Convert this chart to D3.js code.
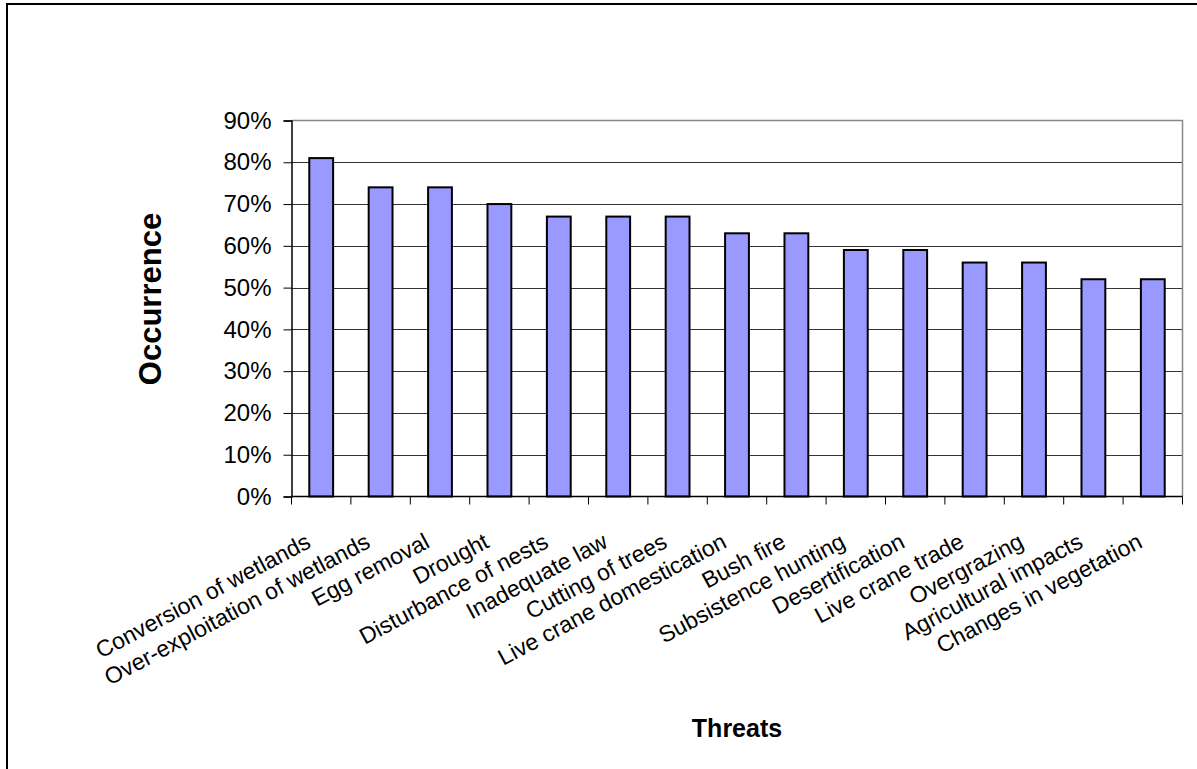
<!DOCTYPE html>
<html>
<head>
<meta charset="utf-8">
<script src="https://cdn.jsdelivr.net/npm/d3@7"></script>
<style>
  html, body { margin: 0; padding: 0; background: #fff; }
  svg { display: block; font-family: Arial, "Liberation Sans", sans-serif; }
</style>
</head>
<body>
<svg id="chart" width="1197" height="769"></svg>
<script>
// Threat categories and share of sites where each was reported
const threats = [
  "Conversion of wetlands",
  "Over-exploitation of wetlands",
  "Egg removal",
  "Drought",
  "Disturbance of nests",
  "Inadequate law",
  "Cutting of trees",
  "Live crane domestication",
  "Bush fire",
  "Subsistence hunting",
  "Desertification",
  "Live crane trade",
  "Overgrazing",
  "Agricultural impacts",
  "Changes in vegetation"
];
const occurrence = [81, 74, 74, 70, 67, 67, 67, 63, 63, 59, 59, 56, 56, 52, 52];
const yTicks = [0, 10, 20, 30, 40, 50, 60, 70, 80, 90];
const yTickLabels = yTicks.map(v => v + "%");

const svg = d3.select("#chart");

// Outer chart border (only left and top edges fall inside the frame)
svg.append("rect")
  .attr("x", 7).attr("y", 4)
  .attr("width", 1400).attr("height", 1000)
  .attr("fill", "none")
  .attr("stroke", "#000")
  .attr("stroke-width", 2);

const plot = { left: 291.5, right: 1182.5, top: 120.5, bottom: 496.5 };

const x = d3.scaleBand()
  .domain(threats)
  .range([plot.left, plot.right])
  .paddingInner(0)
  .paddingOuter(0);

const y = d3.scaleLinear()
  .domain([0, 90])
  .range([plot.bottom, plot.top]);

// Horizontal gridlines
svg.append("g")
  .selectAll("line")
  .data(yTicks.filter(v => v > 0 && v < 90))
  .join("line")
  .attr("x1", plot.left).attr("x2", plot.right)
  .attr("y1", d => Math.round(y(d)) + 0.5)
  .attr("y2", d => Math.round(y(d)) + 0.5)
  .attr("stroke", "#333")
  .attr("stroke-width", 1);

// Plot-area border on top and right
svg.append("path")
  .attr("d", `M${plot.left},${plot.top}H${plot.right}V${plot.bottom}`)
  .attr("fill", "none")
  .attr("stroke", "#888")
  .attr("stroke-width", 1.5);

// Bars
const barW = x.step() / 2.3 - 2;
svg.append("g")
  .selectAll("rect")
  .data(threats.map((t, i) => ({ t, v: occurrence[i] })))
  .join("rect")
  .attr("x", d => x(d.t) + x.bandwidth() / 2 - barW / 2)
  .attr("y", d => y(d.v))
  .attr("width", barW)
  .attr("height", d => y(0) - y(d.v))
  .attr("fill", "#9999FF")
  .attr("stroke", "#000")
  .attr("stroke-width", 2);

// Y axis
const yAxis = d3.axisLeft(y)
  .tickValues(yTicks)
  .tickFormat((d, i) => yTickLabels[i])
  .tickSize(8)
  .tickPadding(12);
const gy = svg.append("g")
  .attr("transform", `translate(${plot.left},0)`)
  .call(yAxis);
gy.select(".domain").attr("stroke", "#000").attr("stroke-width", 1.5);
gy.selectAll(".tick line").attr("stroke", "#000");
gy.selectAll(".tick text")
  .attr("font-size", 24)
  .attr("font-family", "Arial, 'Liberation Sans', sans-serif")
  .attr("fill", "#000");

// X axis line and ticks at category boundaries
svg.append("line")
  .attr("x1", plot.left).attr("x2", plot.right)
  .attr("y1", plot.bottom).attr("y2", plot.bottom)
  .attr("stroke", "#000").attr("stroke-width", 1.5);
const boundaries = threats.map(t => x(t)).concat([plot.right]);
svg.append("g")
  .selectAll("line")
  .data(boundaries)
  .join("line")
  .attr("x1", d => d).attr("x2", d => d)
  .attr("y1", plot.bottom).attr("y2", plot.bottom + 8)
  .attr("stroke", "#000");

// Rotated category labels
svg.append("g")
  .selectAll("text")
  .data(threats)
  .join("text")
  .attr("transform", d => `translate(${x(d) + x.bandwidth() / 2 - 9},${plot.bottom + 50}) rotate(-28)`)
  .attr("text-anchor", "end")
  .attr("font-size", 23)
  .attr("fill", "#000")
  .text(d => d);

// Axis titles
svg.append("text")
  .attr("x", (plot.left + plot.right) / 2)
  .attr("y", 737)
  .attr("text-anchor", "middle")
  .attr("font-size", 25)
  .attr("font-weight", "bold")
  .text("Threats");

svg.append("text")
  .attr("transform", `translate(161,299) rotate(-90)`)
  .attr("text-anchor", "middle")
  .attr("font-size", 31)
  .attr("font-weight", "bold")
  .text("Occurrence");
</script>
</body>
</html>
